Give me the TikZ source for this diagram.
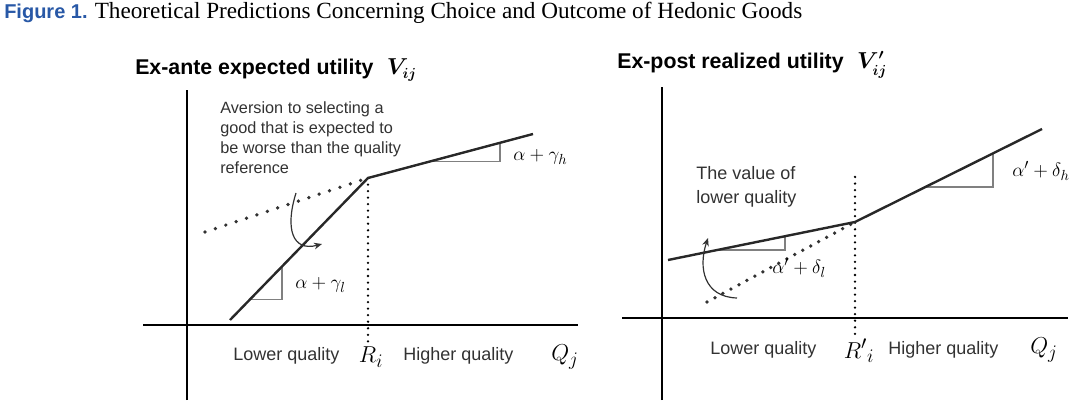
\documentclass[tikz,border=0pt]{standalone}
\usepackage{fontspec}
\setmainfont{Liberation Serif}
\setsansfont{Liberation Sans}
\usetikzlibrary{arrows.meta,positioning,calc}
\definecolor{figblue}{RGB}{40,88,166}
\definecolor{ink}{RGB}{50,50,50}

\begin{document}
\begin{tikzpicture}[
    x=0.75pt, y=-0.75pt,
    axis/.style={line width=1.5pt, black},
    curve/.style={line width=1.8pt, ink!80!black, line join=round},
    dotline/.style={line width=2.8pt, ink, line cap=round, dash pattern=on 0pt off #1},
    dotline/.default=8pt,
    dotvert/.style={line width=1.9pt, black, line cap=round, dash pattern=on 0pt off 4.9pt},
    slope/.style={line width=0.8pt, gray},
    arr/.style={-{Stealth[length=6pt,width=5pt]}, line width=0.9pt, ink},
    ttl/.style={anchor=west, inner sep=0pt, font=\sffamily\bfseries\fontsize{16}{19}\selectfont},
    lab/.style={inner sep=0pt, text=ink, font=\sffamily\fontsize{13.5}{16}\selectfont},
    note/.style={anchor=north west, inner sep=0pt, align=left, text=ink},
    mth/.style={inner sep=0pt, font=\fontsize{15}{17}\selectfont},
    axm/.style={inner sep=0pt, font=\fontsize{19}{21}\selectfont}
  ]
    \useasboundingbox (0,0) rectangle (1073,409);

    % caption
    \node[anchor=west, inner sep=0pt, text=figblue, font=\sffamily\bfseries\fontsize{15}{17}\selectfont] (fig) at (4,13) {Figure 1.};
    \node[anchor=west, inner sep=0pt, font=\fontsize{17.4}{19}\selectfont, right=5pt of fig] (cap)
      {Theoretical Predictions Concerning Choice and Outcome of Hedonic Goods};

    % ---- left panel: ex-ante ----
    \node[ttl] (tA) at (135,70) {Ex-ante expected utility\hspace{10pt}{\boldmath$V_{ij}$}};
    \coordinate (ay0) at (187,400);
    \coordinate (ay1) at (187,90);
    \coordinate (ax0) at (143,325);
    \coordinate (ax1) at (578,325);
    \draw[axis] (ay0) -- (ay1);
    \draw[axis] (ax0) -- (ax1);

    \coordinate (a0) at (230,320);
    \coordinate (ak) at (368,178);
    \coordinate (a1) at (533,134);
    \coordinate (ad) at (205,232);
    \coordinate (ar) at (368,343);
    \draw[dotline=8.2pt] (ad) -- (ak);
    \draw[dotvert] (ak) -- (ar);
    \draw[slope] (250,299.4) -- (282,299.4) -- (282,266.5);
    \draw[slope] (430,161.5) -- (500,161.5) -- (500,142.8);
    \draw[curve] (a0) -- (ak) -- (a1);

    \node[mth, anchor=west] (gl) at (295,285) {$\alpha+\gamma_l$};
    \node[mth, anchor=west] (gh) at (513,157) {$\alpha+\gamma_h$};
    \node[note, font=\sffamily\fontsize{12.2}{15}\selectfont] (avers) at (220,101)
      {Aversion to selecting a\\good that is expected to\\be worse than the quality\\reference};

    \coordinate (ca0) at (296,193);
    \coordinate (ca1) at (322,244);
    \draw[arr] (ca0) .. controls (285,228) and (292,252) .. (ca1);

    \node[lab, anchor=west] (loA) at (233,356) {Lower quality};
    \node[axm] (rA) at (371,357) {$R_i$};
    \node[lab, anchor=west] (hiA) at (403,356) {Higher quality};
    \node[axm] (qA) at (565,357) {$Q_j$};

    % ---- right panel: ex-post ----
    \node[ttl] (tB) at (617,65) {Ex-post realized utility\hspace{10pt}{\boldmath$V'_{ij}$}};
    \coordinate (by0) at (662,400);
    \coordinate (by1) at (662,87);
    \coordinate (bx0) at (622,318);
    \coordinate (bx1) at (1068,318);
    \draw[axis] (by0) -- (by1);
    \draw[axis] (bx0) -- (bx1);

    \coordinate (b0) at (668,260);
    \coordinate (bk) at (855,222);
    \coordinate (b1) at (1042,129);
    \coordinate (bd) at (707,302);
    \coordinate (br0) at (855,177);
    \coordinate (br1) at (855,335);
    \draw[dotline=6.8pt] (bd) -- (bk);
    \draw[dotvert] (br0) -- (br1);
    \draw[slope] (717,250) -- (785,250) -- (785,236.2);
    \draw[slope] (925.4,187) -- (993,187) -- (993,153.4);
    \draw[curve] (b0) -- (bk) -- (b1);

    \node[mth, anchor=west] (dl) at (772,268) {$\alpha'+\delta_l$};
    \node[mth, anchor=west] (dh) at (1012,171) {$\alpha'+\delta_h$};
    \node[note, font=\sffamily\fontsize{13.5}{18}\selectfont] (value) at (696,166)
      {The value of\\lower quality};

    \coordinate (cb0) at (737,298);
    \coordinate (cb1) at (708,238);
    \draw[arr] (cb0) .. controls (704,297) and (698,268) .. (cb1);

    \node[lab, anchor=west] (loB) at (710,350) {Lower quality};
    \node[axm] (rB) at (859,351) {$R'{}_{i}$};
    \node[lab, anchor=west] (hiB) at (888,350) {Higher quality};
    \node[axm] (qB) at (1044,350) {$Q_j$};
  \end{tikzpicture}
\end{document}
